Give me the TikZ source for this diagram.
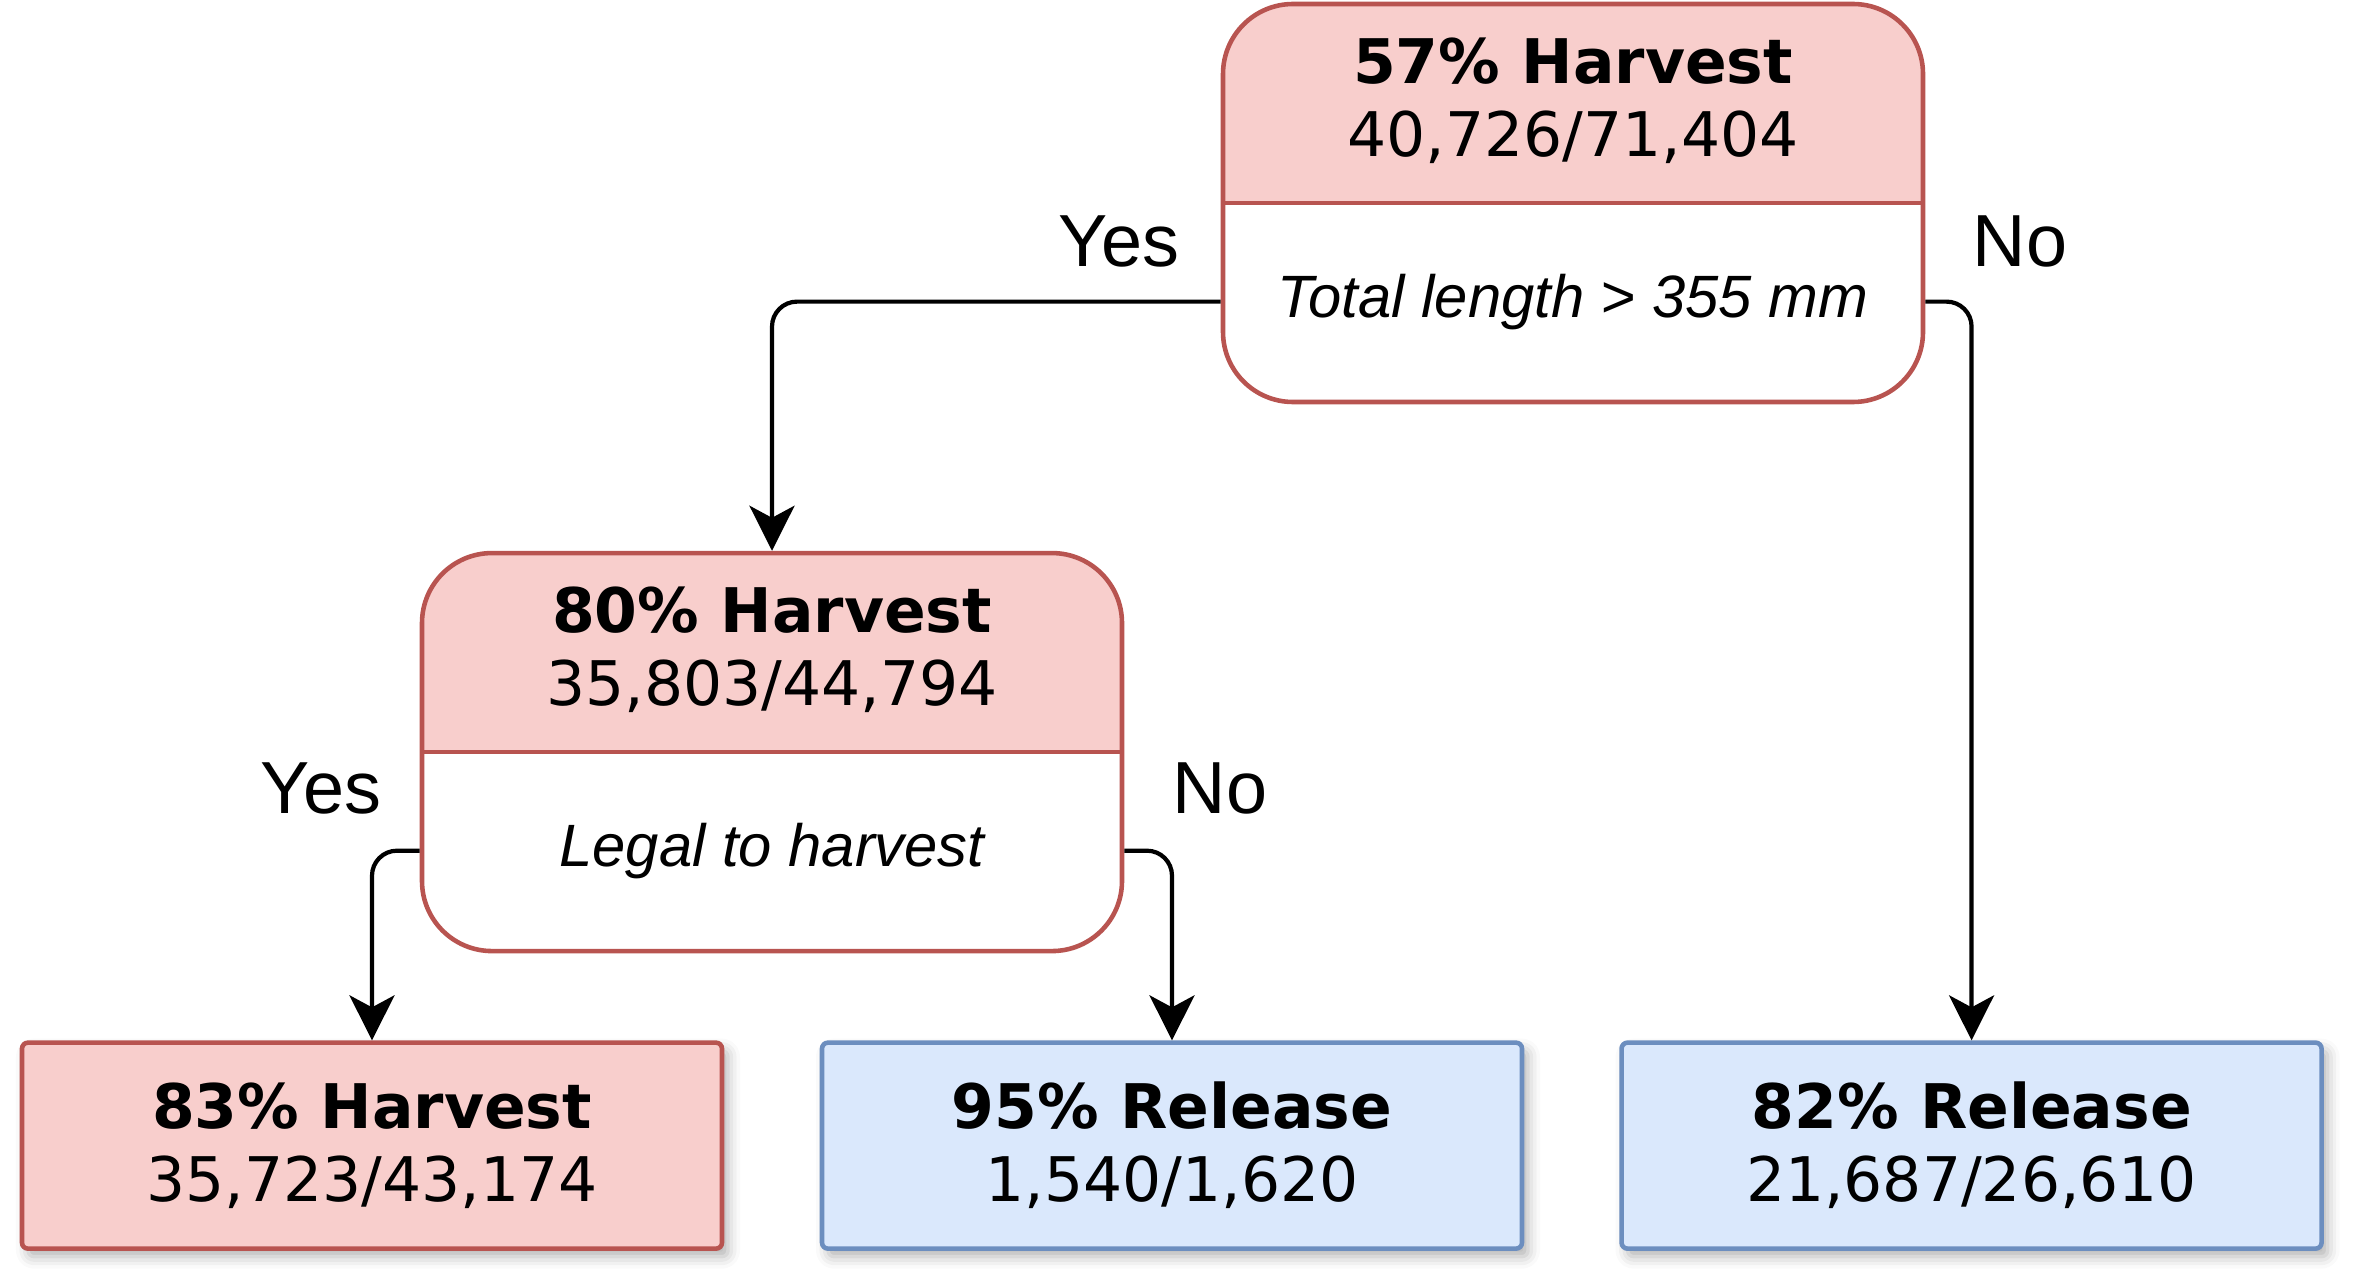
\documentclass[tikz,border=0pt]{standalone}
\usepackage{fontspec}
\setmainfont{DejaVu Sans}
\newfontfamily\arialish{Liberation Sans}
\usepackage{xcolor}
\usetikzlibrary{positioning,calc,arrows.meta,shadows.blur}
\definecolor{hfill}{HTML}{F8CECC}
\definecolor{hline}{HTML}{B85450}
\definecolor{rfill}{HTML}{DAE8FC}
\definecolor{rline}{HTML}{6C8EBF}

\begin{document}
\begin{tikzpicture}[
  split/.style={rectangle, draw=hline, line width=1.3pt, rounded corners=0.7cm, fill=white, minimum width=7cm, minimum height=3.98cm, inner sep=0pt,
    path picture={\fill[hfill, sharp corners] (path picture bounding box.north west) rectangle (path picture bounding box.east);
      \draw[hline, line width=1.3pt, sharp corners] (path picture bounding box.west) -- (path picture bounding box.east);}},
  head/.style={align=center, font=\fontsize{17.5}{20.8}\selectfont, inner sep=0pt},
  cond/.style={font=\arialish\itshape\fontsize{17}{20}\selectfont, inner sep=0pt},
  leaf/.style={rectangle, line width=1.3pt, rounded corners=0.6mm, minimum width=7cm, minimum height=2.06cm, align=center, font=\fontsize{17.5}{20.8}\selectfont,
    blur shadow={shadow xshift=0.6mm, shadow yshift=-0.8mm, shadow blur radius=1.2mm, shadow opacity=30}},
  harvest/.style={leaf, draw=hline, fill=hfill},
  release/.style={leaf, draw=rline, fill=rfill},
  ans/.style={font=\arialish\fontsize{21}{24}\selectfont, inner sep=0pt},
  arrow/.style={-{Stealth[length=4.5mm, width=4.5mm, inset=1.2mm]}, line width=1.2pt, rounded corners=2.5mm}
]
\useasboundingbox (0,0) rectangle (23.55,-12.85);

% root split
\node[split] (q1) at (15.73,-2.03) {};
\node[head] (q1h) at ($(q1.north)!0.245!(q1.south)$) {\textbf{57\% Harvest}\\40,726/71,404};
\node[cond] (q1c) at ($(q1.north)!0.745!(q1.south)$) {Total length > 355 mm};

% second split
\node[split] (q2) [below=1.465cm of q1, xshift=-8.01cm] {};
\node[head] (q2h) at ($(q2.north)!0.245!(q2.south)$) {\textbf{80\% Harvest}\\35,803/44,794};
\node[cond] (q2c) at ($(q2.north)!0.745!(q2.south)$) {Legal to harvest};

% leaves
\node[harvest] (leaf1) [below=0.87cm of q2, xshift=-4.0cm] {\textbf{83\% Harvest}\\35,723/43,174};
\node[release] (leaf2) [below=0.87cm of q2, xshift=4.0cm] {\textbf{95\% Release}\\1,540/1,620};
\node[release] (leaf3) [right=0.95cm of leaf2] {\textbf{82\% Release}\\21,687/26,610};

% connectors
\draw[arrow] (q1.west |- q1c) -| (q2.north);
\draw[arrow] (q1.east |- q1c) -| (leaf3.north);
\draw[arrow] (q2.west |- q2c) -| (leaf1.north);
\draw[arrow] (q2.east |- q2c) -| (leaf2.north);

\node[ans] (yes1) at (11.19,-2.41) {Yes};
\node[ans] (no1) at (20.20,-2.41) {No};
\node[ans] (yes2) at (3.21,-7.88) {Yes};
\node[ans] (no2) at (12.20,-7.88) {No};

\end{tikzpicture}
\end{document}
